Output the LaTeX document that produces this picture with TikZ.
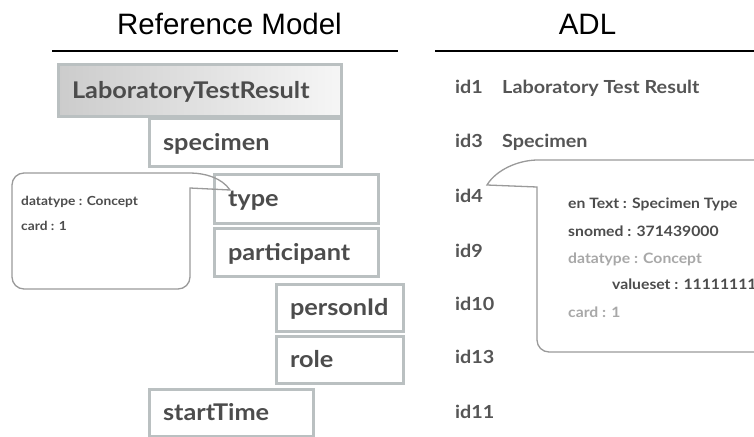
\documentclass[tikz,border=0pt]{standalone}
\usepackage{fontspec}
\setmainfont{Lato}[FakeStretch=1.1]
\newfontfamily\headfont{Liberation Sans}
\definecolor{boxline}{HTML}{BAC0C1}
\definecolor{labeltxt}{HTML}{4C4C4C}
\definecolor{idtxt}{HTML}{555555}
\definecolor{calloutline}{HTML}{9A9A9A}
\definecolor{softtxt}{HTML}{A8A8A8}
\definecolor{shadeA}{HTML}{CCCCCC}
\definecolor{shadeB}{HTML}{F6F6F6}
\begin{document}
\begin{tikzpicture}[x=1pt,y=-1pt,
  heading/.style={font=\headfont\fontsize{29.5}{32}\selectfont, text=black, anchor=base, inner sep=0pt},
  rule/.style={line width=2pt, black},
  rmbox/.style={draw=boxline, line width=3pt, fill=white, anchor=north west,
    inner xsep=13.5pt, inner ysep=0pt, align=left, text=labeltxt,
    font=\fontsize{23}{26}\selectfont\bfseries, text height=18pt, text depth=3pt},
  idlabel/.style={anchor=base west, inner sep=0pt, text=idtxt, font=\fontsize{18}{20}\selectfont\bfseries},
  callout/.style={draw=calloutline, line width=1.3pt},
  smalltxt/.style={anchor=base west, inner sep=0pt, text=labeltxt, font=\fontsize{12.5}{14}\selectfont\bfseries},
  notetxt/.style={anchor=base west, inner sep=0pt, text=labeltxt, font=\fontsize{14.3}{16}\selectfont\bfseries},
  notesoft/.style={notetxt, text=softtxt},
]
\useasboundingbox (0,0) rectangle (754,436);
\clip (0,0) rectangle (754,436);

% column headings
\node[heading] (hrm) at (229.5,35) {Reference Model};
\node[heading] (hadl) at (587.5,35) {ADL};
\draw[rule] (52,51) -- (398,51);
\draw[rule] (435,51) -- (760,51);

% reference model tree
\node[rmbox, left color=shadeA, right color=shadeB,
      text width=256pt, minimum height=52pt] (ltr) at (57,63) {LaboratoryTestResult};
\node[rmbox, text width=165pt, minimum height=48pt] (spec) at (148,117) {specimen};
\node[rmbox, text width=137pt, minimum height=49pt] (type) at (213,173) {type};
\node[rmbox, text width=137pt, minimum height=48pt] (part) at (213,227) {participant};
\node[rmbox, text width=100pt, minimum height=47pt] (pid) at (275,283) {personId};
\node[rmbox, text width=100pt, minimum height=47pt] (role) at (275,335) {role};
\node[rmbox, text width=137pt, minimum height=47pt] (start) at (148,388) {startTime};

% note attached to the type attribute
\draw[callout] (190,188) [rounded corners=12pt] -- (190,289) -- (12,289) -- (12,173) -- (178,173)
  [sharp corners] .. controls (205,173) and (222,178) .. (230,190) -- cycle;
\node[smalltxt] (ldt) at (21,205) {datatype : Concept};
\node[smalltxt] (lcard) at (21,230) {card : 1};

% archetype node identifiers
\node[idlabel] (id1) at (455,93) {id1};
\node[idlabel] (t1) at (502,93) {Laboratory Test Result};
\node[idlabel] (id3) at (455,147) {id3};
\node[idlabel] (t3) at (502,147) {Specimen};
\node[idlabel] (id4) at (455,202) {id4};
\node[idlabel] (id9) at (455,257) {id9};
\node[idlabel] (id10) at (455,310) {id10};
\node[idlabel] (id13) at (455,363) {id13};
\node[idlabel] (id11) at (455,418) {id11};

% note attached to id4
\draw[callout, fill=white] (537,187) [rounded corners=12pt] -- (537,352) -- (790,352) -- (790,160)
  -- (550,160) [sharp corners] .. controls (518,160) and (496,170) .. (487,185) -- cycle;
\node[notetxt] (ntext) at (568,208) {en Text : Specimen Type};
\node[notetxt] (nsno) at (568,236) {snomed : 371439000};
\node[notesoft] (ndt) at (568,263) {datatype : Concept};
\node[notetxt] (nvs) at (612,289) {valueset : 11111111};
\node[notesoft] (ncard) at (568,317) {card : 1};
\end{tikzpicture}
\end{document}
